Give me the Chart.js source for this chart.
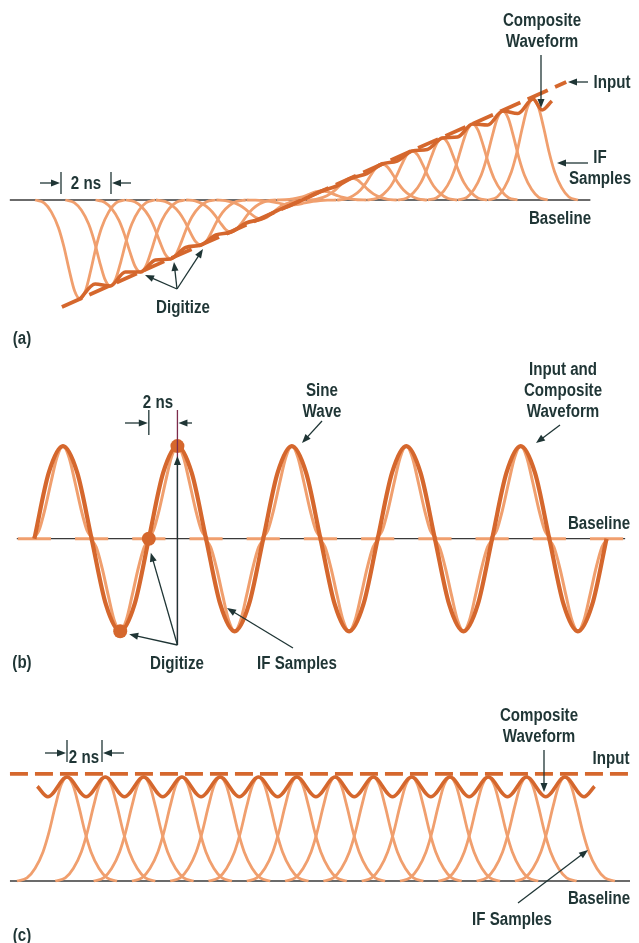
<!DOCTYPE html>
<html>
<head>
<meta charset="utf-8">
<script src="https://cdn.jsdelivr.net/npm/chart.js@4.4.0/dist/chart.umd.min.js"></script>
<style>
  html, body { margin: 0; padding: 0; background: #fff; }
  body { width: 639px; height: 943px; position: relative; overflow: hidden; }
  canvas { position: absolute; left: 0; }
  .lbl {
    position: absolute;
    font-family: "Liberation Sans", Arial, sans-serif;
    font-weight: bold;
    font-size: 18px;
    line-height: 21px;
    color: #1f3535;
    white-space: nowrap;
    text-align: center;
  }
</style>
</head>
<body>
<canvas id="chartA" width="639" height="330" style="top:0px"></canvas>
<canvas id="chartB" width="639" height="340" style="top:340px"></canvas>
<canvas id="chartC" width="639" height="263" style="top:680px"></canvas>
<div id="labels"></div>
<script>
// Pulse profile of one IF sample (offset in half-widths, fraction of amplitude)
const pulseU = [-1.25, -1, -0.8, -0.6, -0.45, -0.3, -0.15, 0, 0.15, 0.3, 0.45, 0.6, 0.8, 1, 1.25];
const pulseLevel = [0, 0.03, 0.12, 0.28, 0.47, 0.71, 0.92, 1, 0.92, 0.71, 0.47, 0.28, 0.12, 0.03, 0];
// Profile used for the sine panel
const sinePulseU = [-1, -0.8, -0.6, -0.4, -0.2, 0, 0.2, 0.4, 0.6, 0.8, 1];
const sinePulseLevel = [0, 0.09, 0.32, 0.61, 0.88, 1, 0.88, 0.61, 0.32, 0.09, 0];

// (a) ramp input, times in ns
const aSampleTimes = [0, 2, 4, 6, 8, 10, 12, 14, 16, 18, 20, 22, 24, 26, 28, 30];
const aSampleAmps = [-0.99, -0.86, -0.72, -0.59, -0.45, -0.32, -0.19, -0.05, 0.09, 0.22, 0.36, 0.49, 0.62, 0.76, 0.89, 1.01];
const aInputTimes = [-1.2, 32.2];
const aInputAmps = [-1.07, 1.18];
const aCompositeTimes = [0, 1, 2, 3, 4, 5, 6, 7, 8, 9, 10, 11, 12, 13, 14, 15, 16, 17, 18, 19, 20, 21, 22, 23, 24, 25, 26, 27, 28, 29, 30, 30.6, 31.25];
const aCompositeAmps = [-0.99, -0.84, -0.86, -0.72, -0.72, -0.6, -0.59, -0.475, -0.45, -0.35, -0.32, -0.23, -0.19, -0.11, -0.05, 0.02, 0.09, 0.14, 0.22, 0.265, 0.36, 0.39, 0.49, 0.505, 0.62, 0.63, 0.76, 0.75, 0.89, 0.865, 1.01, 0.9, 0.99];
const aBaselineTimes = [-4.65, 33.8];

// (b) sine input
const bSampleTimes = [0, 2, 4, 6, 8, 10, 12, 14, 16, 18, 20, 22, 24, 26, 28, 30, 32, 34, 36, 38, 40];
const bSampleAmps = [0, 1, 0, -1, 0, 1, 0, -1, 0, 1, 0, -1, 0, 1, 0, -1, 0, 1, 0, -1, 0];
const bWaveTimes = [0, 1, 2, 3, 4, 5, 6, 7, 8, 9, 10, 11, 12, 13, 14, 15, 16, 17, 18, 19, 20,
  21, 22, 23, 24, 25, 26, 27, 28, 29, 30, 31, 32, 33, 34, 35, 36, 37, 38, 39, 40];
const bWaveAmps = [0, 0.71, 1, 0.71, 0, -0.71, -1, -0.71, 0, 0.71, 1, 0.71, 0, -0.71, -1, -0.71, 0, 0.71, 1, 0.71, 0,
  -0.71, -1, -0.71, 0, 0.71, 1, 0.71, 0, -0.71, -1, -0.71, 0, 0.71, 1, 0.71, 0, -0.71, -1, -0.71, 0];
const bDigitizeTimes = [6, 8, 10];
const bDigitizeAmps = [-1, 0, 1];
const bBaselineTimes = [-1.23, 41.3];

// (c) constant input
const cSampleTimes = [0, 2, 4, 6, 8, 10, 12, 14, 16, 18, 20, 22, 24, 26];
const cSampleAmps = [1, 1, 1, 1, 1, 1, 1, 1, 1, 1, 1, 1, 1, 1];
const cInputTimes = [-2.98, 29.5];
const cInputAmps = [1.03, 1.03];
const cCompositeTimes = [-1.55, -1, 0, 1, 2, 3, 4, 5, 6, 7, 8, 9, 10, 11, 12, 13, 14, 15, 16, 17, 18, 19, 20, 21, 22, 23, 24, 25, 26, 27, 27.55];
const cCompositeAmps = [0.91, 0.81, 1, 0.81, 1, 0.81, 1, 0.81, 1, 0.81, 1, 0.81, 1, 0.81, 1, 0.81, 1, 0.81, 1, 0.81, 1, 0.81, 1, 0.81, 1, 0.81, 1, 0.81, 1, 0.81, 0.91];
const cBaselineTimes = [-2.98, 29.4];

const LIGHT = '#f09f6e';
const DARK = '#d5672d';
const INK = '#1f3535';
const MAROON = '#7d2b4c';

function pts(xs, ys) {
  return xs.map((x, i) => ({ x: x, y: ys[i] }));
}

function pulse(center, amp, halfWidth, us, levels) {
  return us.map((u, i) => ({ x: center + u * halfWidth, y: amp * levels[i] }));
}

function lineSet(data, color, width, order, dash) {
  return {
    data: data,
    borderColor: color,
    borderWidth: width,
    borderDash: dash || [],
    pointRadius: 0,
    fill: false,
    cubicInterpolationMode: 'monotone',
    order: order
  };
}

function baseSet(xs) {
  return { data: pts(xs, [0, 0]), borderColor: '#3a3a3a', borderWidth: 1.3, pointRadius: 0, tension: 0, order: 9 };
}

function arrow(ctx, x1, y1, x2, y2, color) {
  const a = Math.atan2(y2 - y1, x2 - x1);
  const len = 9, half = 3.5;
  ctx.save();
  ctx.strokeStyle = color;
  ctx.fillStyle = color;
  ctx.lineWidth = 1.3;
  ctx.beginPath();
  ctx.moveTo(x1, y1);
  ctx.lineTo(x2 - Math.cos(a) * len * 0.8, y2 - Math.sin(a) * len * 0.8);
  ctx.stroke();
  ctx.beginPath();
  ctx.moveTo(x2, y2);
  ctx.lineTo(x2 - Math.cos(a) * len - Math.sin(a) * half, y2 - Math.sin(a) * len + Math.cos(a) * half);
  ctx.lineTo(x2 - Math.cos(a) * len + Math.sin(a) * half, y2 - Math.sin(a) * len - Math.cos(a) * half);
  ctx.closePath();
  ctx.fill();
  ctx.restore();
}

function vline(ctx, x, y1, y2, color) {
  ctx.save();
  ctx.strokeStyle = color;
  ctx.lineWidth = 1.3;
  ctx.beginPath();
  ctx.moveTo(x, y1);
  ctx.lineTo(x, y2);
  ctx.stroke();
  ctx.restore();
}

function makeChart(id, datasets, xr, yr, notes) {
  return new Chart(document.getElementById(id), {
    type: 'line',
    data: { datasets: datasets },
    options: {
      responsive: false,
      animation: false,
      layout: { padding: 0 },
      plugins: { legend: { display: false }, tooltip: { enabled: false } },
      scales: {
        x: { type: 'linear', min: xr[0], max: xr[1], display: false },
        y: { type: 'linear', min: yr[0], max: yr[1], display: false }
      }
    },
    plugins: [{ id: 'notes_' + id, afterDatasetsDraw: notes }]
  });
}

// ---- (a) ----
const aHalf = 2.38;
const aSets = [
  baseSet(aBaselineTimes),
  lineSet(pts(aInputTimes, aInputAmps), DARK, 3.8, 1, [22, 8]),
  lineSet(pts(aCompositeTimes, aCompositeAmps), DARK, 3.6, 2)
];
aSampleTimes.forEach((t, i) => {
  aSets.push(lineSet(pulse(t, aSampleAmps[i], aHalf, pulseU, pulseLevel), LIGHT, 2.8, 5));
});
makeChart('chartA', aSets, [-5.3, 37.02], [-1.3, 2.0], chart => {
  const ctx = chart.ctx;
  vline(ctx, 61, 172, 194, INK);
  vline(ctx, 111, 172, 194, INK);
  arrow(ctx, 40, 183, 60, 183, INK);
  arrow(ctx, 131, 183, 112, 183, INK);
  arrow(ctx, 541, 55, 541, 108, INK);
  arrow(ctx, 588, 82, 568, 82, INK);
  arrow(ctx, 588, 163, 557, 163, INK);
  arrow(ctx, 177, 289, 145, 275, INK);
  arrow(ctx, 177, 289, 174, 262, INK);
  arrow(ctx, 177, 289, 203, 249, INK);
});

// ---- (b) ----
const bHalf = 2.1;
const bZeroHalf = 1.16;
const bSets = [
  baseSet(bBaselineTimes),
  lineSet(pts(bWaveTimes, bWaveAmps), DARK, 4.2, 2),
  {
    type: 'scatter', data: pts(bDigitizeTimes, bDigitizeAmps), pointRadius: 7,
    pointBackgroundColor: DARK, pointBorderWidth: 0, showLine: false, order: 0
  }
];
bSampleTimes.forEach((t, i) => {
  const amp = bSampleAmps[i];
  const d = amp === 0 ? pts([t - bZeroHalf, t + bZeroHalf], [0, 0]) : pulse(t, amp, bHalf, sinePulseU, sinePulseLevel);
  bSets.push(lineSet(d, LIGHT, 3, 5));
});
makeChart('chartB', bSets, [-1.915, 41.78], [-1.45, 2.07], chart => {
  const ctx = chart.ctx, xs = chart.scales.x, ys = chart.scales.y;
  const x8 = xs.getPixelForValue(bDigitizeTimes[1]);
  const x10 = xs.getPixelForValue(bDigitizeTimes[2]);
  const x6 = xs.getPixelForValue(bDigitizeTimes[0]);
  vline(ctx, x8, 70, 95, INK);
  vline(ctx, x10, 70, 305, MAROON);
  arrow(ctx, 125, 83, x8 - 1, 83, INK);
  arrow(ctx, 192, 83, x10 + 1, 83, INK);
  arrow(ctx, x10, 305, x10, ys.getPixelForValue(1) + 10, INK);
  arrow(ctx, x10, 305, x8 + 2, ys.getPixelForValue(0) + 14, INK);
  arrow(ctx, x10, 305, x6 + 9, ys.getPixelForValue(-1) + 3, INK);
  arrow(ctx, 322, 81, 302, 103, INK);
  arrow(ctx, 560, 85, 536, 103, INK);
  arrow(ctx, 293, 308, 227, 268, INK);
});

// ---- (c) ----
const cHalf = 2.09;
const cSets = [
  baseSet(cBaselineTimes),
  lineSet(pts(cInputTimes, cInputAmps), DARK, 3.8, 1, [18, 7]),
  lineSet(pts(cCompositeTimes, cCompositeAmps), DARK, 3.6, 2)
];
cSampleTimes.forEach((t, i) => {
  cSets.push(lineSet(pulse(t, cSampleAmps[i], cHalf, pulseU, pulseLevel), LIGHT, 2.8, 5));
});
makeChart('chartC', cSets, [-3.5, 29.87], [-0.596, 1.933], chart => {
  const ctx = chart.ctx;
  vline(ctx, 67, 60, 82, INK);
  vline(ctx, 102, 60, 82, INK);
  arrow(ctx, 45, 73, 66, 73, INK);
  arrow(ctx, 124, 73, 103, 73, INK);
  arrow(ctx, 544, 70, 544, 112, INK);
  arrow(ctx, 518, 223, 588, 170, INK);
});

// Text labels: [text, centre x, centre y of first line] in page pixels
const labels = [
  ['2 ns', 86, 183], ['Composite<br>Waveform', 542, 20], ['Input', 612, 82],
  ['IF<br>Samples', 600, 157], ['Baseline', 560, 218], ['Digitize', 183, 307],
  ['(a)', 22, 338],
  ['2 ns', 158, 402], ['Sine<br>Wave', 322, 390], ['Input and<br>Composite<br>Waveform', 563, 369],
  ['Baseline', 599, 523], ['Digitize', 177, 663], ['IF Samples', 297, 663], ['(b)', 22, 662],
  ['2 ns', 84, 757], ['Composite<br>Waveform', 539, 715], ['Input', 611, 758],
  ['Baseline', 599, 898], ['IF Samples', 512, 919], ['(c)', 22, 935]
];
const holder = document.getElementById('labels');
labels.forEach(([text, x, y]) => {
  const el = document.createElement('div');
  el.className = 'lbl';
  el.innerHTML = text;
  el.style.left = x + 'px';
  el.style.top = (y - 10.5) + 'px';
  el.style.transform = 'translateX(-50%) scaleX(0.84)';
  holder.appendChild(el);
});
</script>
</body>
</html>
